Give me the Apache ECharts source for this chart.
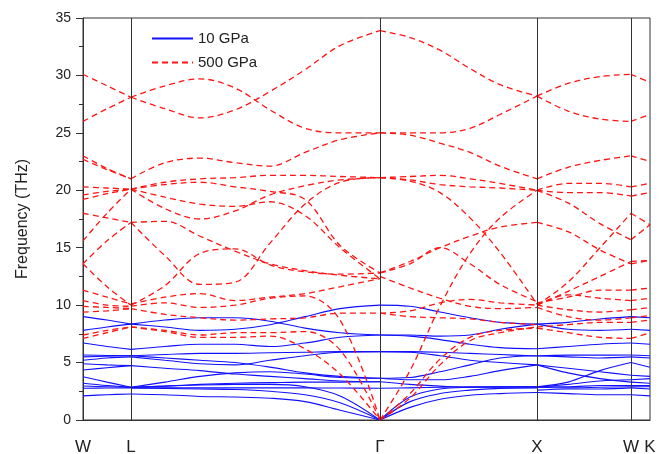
<!DOCTYPE html>
<html>
<head>
<meta charset="utf-8">
<script src="https://cdn.jsdelivr.net/npm/echarts@6/dist/echarts.min.js"></script>
<style>html,body{margin:0;padding:0;background:#fff}#c{width:660px;height:454px}</style>
</head>
<body>
<div id="c"></div>
<script>
// k-path positions (arbitrary path units) of high-symmetry points
const symLabels = ['W', 'L', 'Γ', 'X', 'W', 'K'];
const symK = [0, 48, 297, 454, 548, 567];
const yTicks = [0, 5, 10, 15, 20, 25, 30, 35];

// sample k-points per path segment
const kWL = [0, 24, 48];
const kLG = [48, 82, 117, 152, 187, 222, 257, 297];
const kGX = [297, 327, 357, 387, 417, 454];
const kXW = [454, 485, 517, 548];
const kWK = [548, 567];

// 500 GPa bands (THz), per segment
const red_WL = [
  [30.1, 29.1, 28.1], [26.0, 27.1, 28.1], [23.0, 21.9, 21.0], [22.7, 21.8, 21.0],
  [20.3, 20.2, 20.1], [19.6, 19.9, 20.1], [19.2, 19.7, 20.1], [15.6, 18.0, 20.1],
  [18.0, 17.6, 17.2], [13.6, 15.6, 17.2], [13.6, 11.6, 10.0], [11.3, 10.7, 10.1],
  [10.4, 10.0, 9.9], [9.9, 9.8, 9.7], [9.4, 9.5, 9.7], [7.4, 7.8, 8.1], [7.1, 7.6, 8.1]
];
const red_LG = [
  [28.1, 27.1, 26.3, 27.0, 28.6, 30.5, 32.6, 33.9],
  [28.1, 29.1, 29.7, 28.9, 27.0, 25.4, 25.0, 25.0],
  [21.0, 22.4, 22.8, 22.4, 22.1, 23.3, 24.4, 25.0],
  [20.1, 20.7, 21.0, 21.1, 21.3, 21.3, 21.2, 21.1],
  [20.1, 20.5, 20.7, 20.3, 19.9, 19.2, 15.2, 12.8],
  [20.1, 18.4, 17.5, 18.2, 19.6, 20.4, 20.9, 21.1],
  [20.1, 19.4, 18.8, 18.6, 19.0, 17.8, 15.0, 12.3],
  [17.2, 14.3, 11.8, 12.0, 15.4, 18.8, 20.7, 21.1],
  [17.2, 17.3, 16.0, 14.7, 13.6, 13.0, 12.6, 12.3],
  [10.0, 11.7, 14.5, 14.9, 13.5, 12.9, 12.7, 12.8],
  [10.1, 10.7, 11.0, 10.4, 10.7, 11.0, 11.6, 12.3],
  [9.9, 10.2, 9.8, 10.0, 10.6, 10.8, 8.7, 0],
  [9.7, 9.2, 8.9, 8.7, 8.8, 8.9, 9.3, 9.3],
  [8.1, 7.8, 7.4, 7.6, 7.6, 7.7, 6.1, 0],
  [8.1, 7.7, 7.2, 7.2, 7.3, 6.2, 4.0, 0]
];
const red_GX = [
  [33.9, 33.3, 32.2, 30.6, 29.2, 28.2], [25.0, 25.0, 25.0, 25.4, 26.6, 28.2],
  [25.0, 24.8, 24.1, 23.3, 22.1, 21.0], [21.1, 21.2, 21.3, 21.0, 20.6, 20.0],
  [21.1, 20.8, 19.8, 17.6, 14.6, 10.1], [21.1, 20.9, 20.5, 20.3, 20.2, 20.0],
  [0, 4.3, 9.9, 14.5, 17.6, 20.0], [12.8, 13.8, 15.0, 16.0, 16.8, 17.2],
  [12.5, 11.5, 10.6, 9.9, 9.7, 9.8], [9.3, 9.5, 10.2, 10.5, 10.2, 10.0],
  [12.8, 13.6, 15.0, 13.6, 11.8, 10.3], [0, 2.3, 5.3, 7.2, 7.8, 8.0],
  [0, 1.9, 4.8, 6.9, 7.6, 8.1], [9.3, 9.0, 8.9, 8.8, 8.5, 8.3]
];
const red_XW = [
  [28.2, 26.9, 26.2, 26.0], [28.2, 29.3, 29.9, 30.1], [21.0, 22.0, 22.6, 23.0],
  [20.0, 20.6, 20.6, 20.3], [20.0, 19.8, 19.8, 19.5], [20.0, 18.9, 17.1, 15.7],
  [17.2, 16.4, 14.8, 13.6], [10.0, 12.0, 15.0, 18.0], [10.2, 10.7, 11.3, 11.3],
  [10.0, 10.9, 10.6, 10.4], [10.0, 9.6, 9.4, 9.6], [8.1, 8.3, 8.5, 8.5],
  [8.0, 7.6, 7.2, 7.1], [9.8, 9.0, 8.7, 8.9], [10.0, 11.2, 12.5, 13.8]
];
const red_WK = [
  [26.0, 26.6], [30.1, 29.4], [23.0, 22.5], [20.3, 20.6], [19.5, 19.8], [15.7, 17.0],
  [13.6, 13.9], [18.0, 17.0], [11.3, 11.5], [10.4, 10.6], [9.6, 9.8], [8.5, 8.7],
  [7.1, 7.6], [8.9, 9.1], [13.8, 13.9]
];

// 10 GPa bands (THz), per segment
const blue_WL = [
  [9.0, 8.7, 8.35], [7.8, 8.1, 8.35], [6.7, 6.4, 6.15], [5.66, 5.62, 5.6],
  [5.5, 5.55, 5.6], [5.2, 5.4, 5.5], [4.9, 4.8, 4.73], [4.35, 4.55, 4.73],
  [3.77, 3.3, 2.85], [3.2, 3.0, 2.85], [2.96, 2.9, 2.85], [2.76, 2.78, 2.8],
  [2.1, 2.2, 2.27]
];
const blue_LG = [
  [8.35, 8.7, 8.9, 8.9, 8.6, 8.0, 7.6, 7.4],
  [8.35, 8.1, 7.8, 7.9, 8.3, 9.0, 9.7, 10.0],
  [6.15, 6.4, 6.6, 6.6, 6.4, 6.7, 7.2, 7.4],
  [5.6, 5.7, 5.8, 5.8, 5.85, 5.9, 5.95, 5.95],
  [5.6, 5.4, 5.2, 5.0, 4.6, 4.1, 3.8, 3.63],
  [5.5, 5.2, 4.9, 4.8, 5.2, 5.6, 5.9, 5.95],
  [4.73, 4.5, 4.3, 4.0, 3.8, 3.6, 3.4, 3.33],
  [2.85, 3.3, 3.8, 4.1, 4.2, 4.0, 3.7, 3.63],
  [2.85, 2.95, 3.1, 3.2, 3.25, 3.3, 3.3, 3.33],
  [2.8, 2.8, 2.8, 2.8, 2.8, 2.8, 2.78, 2.76],
  [2.27, 2.2, 2.05, 2.0, 1.9, 1.6, 0.85, 0],
  [2.8, 2.75, 2.7, 2.65, 2.5, 2.2, 1.5, 0],
  [2.85, 2.95, 3.05, 3.1, 3.1, 2.9, 2.1, 0]
];
const blue_GX = [
  [10.0, 9.9, 9.4, 8.9, 8.5, 8.35], [7.4, 7.4, 7.3, 7.4, 7.9, 8.35],
  [7.4, 7.3, 7.0, 6.6, 6.3, 6.2], [5.95, 5.95, 5.9, 5.8, 5.7, 5.57],
  [5.95, 5.9, 5.6, 5.2, 5.0, 4.8], [3.63, 3.7, 4.2, 4.8, 5.4, 5.6],
  [3.63, 3.5, 3.5, 3.8, 4.3, 4.8], [3.33, 3.1, 2.95, 2.85, 2.85, 2.85],
  [2.76, 2.8, 2.85, 2.9, 2.9, 2.9], [0, 1.1, 1.8, 2.15, 2.3, 2.4],
  [0, 1.6, 2.3, 2.6, 2.75, 2.8], [0, 2.0, 2.7, 2.85, 2.9, 2.9]
];
const blue_XW = [
  [8.35, 8.5, 8.8, 9.0], [8.35, 7.9, 7.8, 7.9], [6.2, 6.4, 6.6, 6.7],
  [5.57, 5.65, 5.65, 5.66], [5.6, 5.5, 5.4, 5.5], [4.8, 4.5, 4.2, 3.9],
  [2.9, 3.3, 4.3, 5.0], [2.85, 3.1, 3.4, 3.5], [4.8, 4.1, 3.6, 3.3],
  [2.9, 2.9, 3.0, 3.0], [2.85, 2.8, 2.85, 2.9], [2.4, 2.3, 2.2, 2.2],
  [2.6, 2.7, 2.7, 2.8]
];
const blue_WK = [
  [9.0, 8.9], [7.9, 7.8], [6.7, 6.6], [5.66, 5.6], [5.5, 5.4], [3.9, 3.8],
  [5.0, 4.6], [3.5, 3.6], [3.3, 3.2], [3.0, 3.0], [2.9, 2.9], [2.2, 2.1], [2.8, 2.7]
];

const NAME_BLUE = '10 GPa';
const NAME_RED = '500 GPa';
const blueStyle = { color: '#1010ff', width: 1.1, type: 'solid' };
const redStyle = { color: '#ff1414', width: 1.3, type: [6, 4] };

const series = [];
function addBands(ks, bands, name, lineStyle, z) {
  bands.forEach(vals => {
    series.push({
      name, type: 'line', z, silent: true, animation: false,
      smooth: 0.35, symbol: 'none', showSymbol: false,
      lineStyle, itemStyle: { color: lineStyle.color },
      emphasis: { disabled: true },
      data: ks.map((k, i) => [k, vals[i]])
    });
  });
}
[[kWL, blue_WL], [kLG, blue_LG], [kGX, blue_GX], [kXW, blue_XW], [kWK, blue_WK]]
  .forEach(([k, b]) => addBands(k, b, NAME_BLUE, blueStyle, 2));
[[kWL, red_WL], [kLG, red_LG], [kGX, red_GX], [kXW, red_XW], [kWK, red_WK]]
  .forEach(([k, b]) => addBands(k, b, NAME_RED, redStyle, 3));

// vertical lines at interior high-symmetry points
series[0].markLine = {
  silent: true, animation: false, symbol: ['none', 'none'],
  label: { show: false },
  lineStyle: { color: '#333', width: 1, type: 'solid' },
  data: symK.slice(1, 5).map(k => ({ xAxis: k }))
};

const chart = echarts.init(document.getElementById('c'), null, { renderer: 'canvas' });
chart.setOption({
  animation: false,
  backgroundColor: '#ffffff',
  textStyle: { fontFamily: 'Liberation Sans, Arial, sans-serif' },
  grid: { left: 83, right: 10, top: 18, bottom: 34, outerBoundsMode: 'none', containLabel: false, show: true, borderColor: '#333', borderWidth: 1, backgroundColor: 'transparent' },
  legend: {
    data: [NAME_BLUE, NAME_RED], orient: 'vertical', left: 146, top: 26,
    itemWidth: 41, itemHeight: 14, itemGap: 9,
    itemStyle: { opacity: 0 },
    textStyle: { fontSize: 15, color: '#222', fontFamily: 'Liberation Sans, Arial, sans-serif' }
  },
  xAxis: {
    type: 'value', min: 0, max: 567,
    axisLine: { show: true, lineStyle: { color: '#333', width: 1 } },
    axisTick: { show: false },
    splitLine: { show: false },
    axisLabel: {
      customValues: symK, margin: 19, fontSize: 17, color: '#222',
      formatter: v => { const i = symK.indexOf(v); return i >= 0 ? symLabels[i] : ''; }
    }
  },
  yAxis: {
    type: 'value', min: 0, max: 35, interval: 5,
    name: 'Frequency (THz)', nameLocation: 'middle', nameGap: 52,
    nameTextStyle: { fontSize: 16, color: '#222' },
    axisLine: { show: true, lineStyle: { color: '#333', width: 1 } },
    axisTick: { show: true, inside: false, length: 7, lineStyle: { color: '#333' } },
    minorTick: { show: true, splitNumber: 2, length: 4, lineStyle: { color: '#333' } },
    splitLine: { show: false },
    axisLabel: { margin: 12, fontSize: 14, color: '#222' }
  },
  series
});
</script>
</body>
</html>
